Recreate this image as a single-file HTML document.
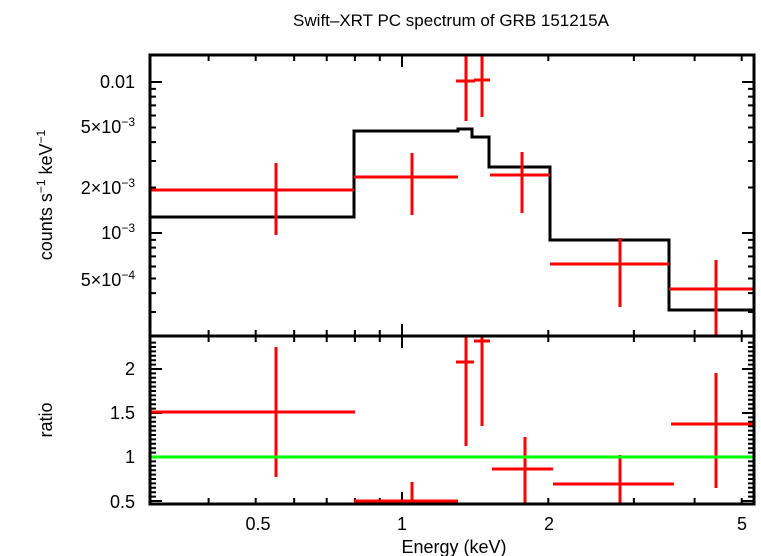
<!DOCTYPE html>
<html><head><meta charset="utf-8"><style>
html,body{margin:0;padding:0;background:#fff;width:761px;height:556px;overflow:hidden}
svg{display:block;font-family:"Liberation Sans",sans-serif}
</style></head><body>
<svg id="s" width="761" height="556" viewBox="0 0 761 556">
<text x="451" y="26" font-size="17" text-anchor="middle">Swift–XRT PC spectrum of GRB 151215A</text>
<g id="ticks" stroke="#000" stroke-width="2"></g>
<polyline fill="none" stroke="#000" stroke-width="3" points="150,217 354,217 354,131 458,131 458,129 472,129 472,137 489,137 489,167 550,167 550,240 669,240 669,310 754,310"/>
<g stroke="#f00" stroke-width="3" fill="none">
<path d="M150,190H354M276,163V235"/>
<path d="M354,177H458M412,153V215"/>
<path d="M456,81H475M466,55V121"/>
<path d="M474,80H490M482,55V117"/>
<path d="M490,175H550M522,152V213"/>
<path d="M550,264H669M620,238V307"/>
<path d="M669,289H754M716,260V336"/>
<path d="M150,412H355M276,347V477"/>
<path d="M354,501H458M412,482V504"/>
<path d="M456,362H474M466,336V446"/>
<path d="M474,341H490M482,336V426"/>
<path d="M492,469H553M525,437V504"/>
<path d="M553,484H674M620,455V504"/>
<path d="M671,424H754M716,373V488"/>
</g>
<line x1="150" y1="457" x2="754" y2="457" stroke="#0f0" stroke-width="3"/>
<rect x="150" y="55" width="604" height="449" fill="none" stroke="#000" stroke-width="3"/>
<line x1="150" y1="336" x2="754" y2="336" stroke="#000" stroke-width="3"/>
<g font-size="18" text-anchor="end">
<text x="135" y="88">0.01</text>
<text x="135" y="133">5×10<tspan font-size="12" dy="-7">−3</tspan></text>
<text x="135" y="194">2×10<tspan font-size="12" dy="-7">−3</tspan></text>
<text x="135" y="239">10<tspan font-size="12" dy="-7">−3</tspan></text>
<text x="135" y="286">5×10<tspan font-size="12" dy="-7">−4</tspan></text>
<text x="135" y="375">2</text>
<text x="135" y="419">1.5</text>
<text x="135" y="463">1</text>
<text x="135" y="508">0.5</text>
</g>
<g font-size="18" text-anchor="middle">
<text x="258" y="530">0.5</text>
<text x="402" y="530">1</text>
<text x="549" y="530">2</text>
<text x="742" y="530">5</text>
<text x="454" y="553">Energy (keV)</text>
<text transform="translate(52,195) rotate(-90)">counts s<tspan font-size="12" dy="-7">−1</tspan><tspan dy="7"> keV</tspan><tspan font-size="12" dy="-7">−1</tspan></text>
<text transform="translate(52,420) rotate(-90)">ratio</text>
</g>
</svg>
<script>
var g=document.getElementById('ticks'),d='';
function X(e){return 402+486*Math.log10(e);}
function Yt(v){return 82-151*(Math.log10(v)+2);}
var es=[0.4,0.5,0.6,0.7,0.8,0.9,1,2,3,4,5];
es.forEach(function(e){var x=X(e),L=(e==1)?12:6;
d+='M'+x+',55v'+L+'M'+x+',336v-'+L+'M'+x+',336v'+L+'M'+x+',504v-'+L;});
var vs=[3e-4,4e-4,5e-4,6e-4,7e-4,8e-4,9e-4,1e-3,2e-3,3e-3,4e-3,5e-3,6e-3,7e-3,8e-3,9e-3,1e-2];
vs.forEach(function(v){var y=Yt(v);var L=(Math.abs(v-1e-3)<1e-9||Math.abs(v-1e-2)<1e-9)?12:6;
d+='M150,'+y+'h'+L+'M754,'+y+'h-'+L;});
for(var r=0.5;r<=2.31;r+=0.05){var y=457-88*(r-1);var m=Math.abs(r*2-Math.round(r*2))<1e-6;var L=m?12:6;
d+='M150,'+y+'h'+L+'M754,'+y+'h-'+L;}
var p=document.createElementNS('http://www.w3.org/2000/svg','path');p.setAttribute('d',d);g.appendChild(p);
</script>
</body></html>
